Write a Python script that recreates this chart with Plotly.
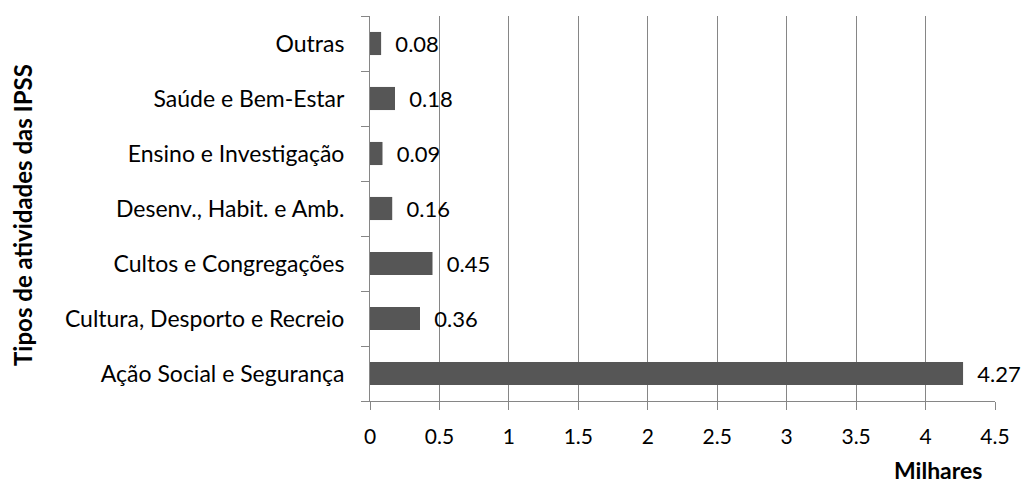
import plotly.graph_objects as go

categories = ["Ação Social e Segurança", "Cultura, Desporto e Recreio", "Cultos e Congregações",
              "Desenv., Habit. e Amb.", "Ensino e Investigação", "Saúde e Bem-Estar", "Outras"]
values = [4.27, 0.36, 0.45, 0.16, 0.09, 0.18, 0.08]
x_ticks = [0, 0.5, 1, 1.5, 2, 2.5, 3, 3.5, 4, 4.5]
x_tick_labels = ["0", "0.5", "1", "1.5", "2", "2.5", "3", "3.5", "4", "4.5"]

FONT = "Lato"
grid = "#868686"

fig = go.Figure()
fig.add_trace(go.Bar(
    y=categories, x=values, orientation="h", width=0.42,
    marker=dict(color="#565656", line=dict(width=0)),
    text=[f"{v:g}" for v in values], texttemplate="  %{text}",
    textposition="outside", constraintext="none", cliponaxis=False,
    textfont=dict(family=FONT, size=22, color="#000000"),
    hoverinfo="skip",
))

fig.update_layout(
    width=1027, height=486,
    margin=dict(l=370, r=32, t=16, b=85),
    paper_bgcolor="white", plot_bgcolor="white",
    showlegend=False,
    font=dict(family=FONT, size=23, color="#000000"),
    xaxis=dict(
        range=[0, 4.5], tickvals=x_ticks, ticktext=x_tick_labels,
        showgrid=True, gridcolor=grid, gridwidth=1,
        showline=True, linecolor=grid, linewidth=1,
        ticks="outside", ticklen=8, tickcolor=grid,
        tickfont=dict(family=FONT, size=21),
        ticklabelstandoff=9,
        zeroline=False,
    ),
    yaxis=dict(
        categoryorder="array", categoryarray=categories,
        showline=True, linecolor=grid, linewidth=1,
        ticks="outside", ticklen=8, tickcolor=grid, tickson="boundaries",
        showgrid=False, zeroline=False,
        tickfont=dict(family=FONT, size=23),
        ticklabelstandoff=20,
    ),
    annotations=[
        dict(text="<b>Milhares</b>", xref="paper", yref="paper", x=0.909, y=-0.178,
             xanchor="center", yanchor="middle", showarrow=False,
             font=dict(family=FONT, size=23)),
        dict(text="<b>Tipos de atividades das IPSS</b>", xref="paper", yref="paper",
             x=-0.557, y=0.483, xanchor="center", yanchor="middle", showarrow=False,
             textangle=-90, font=dict(family=FONT, size=24)),
    ],
)

fig.write_html("out.html")
